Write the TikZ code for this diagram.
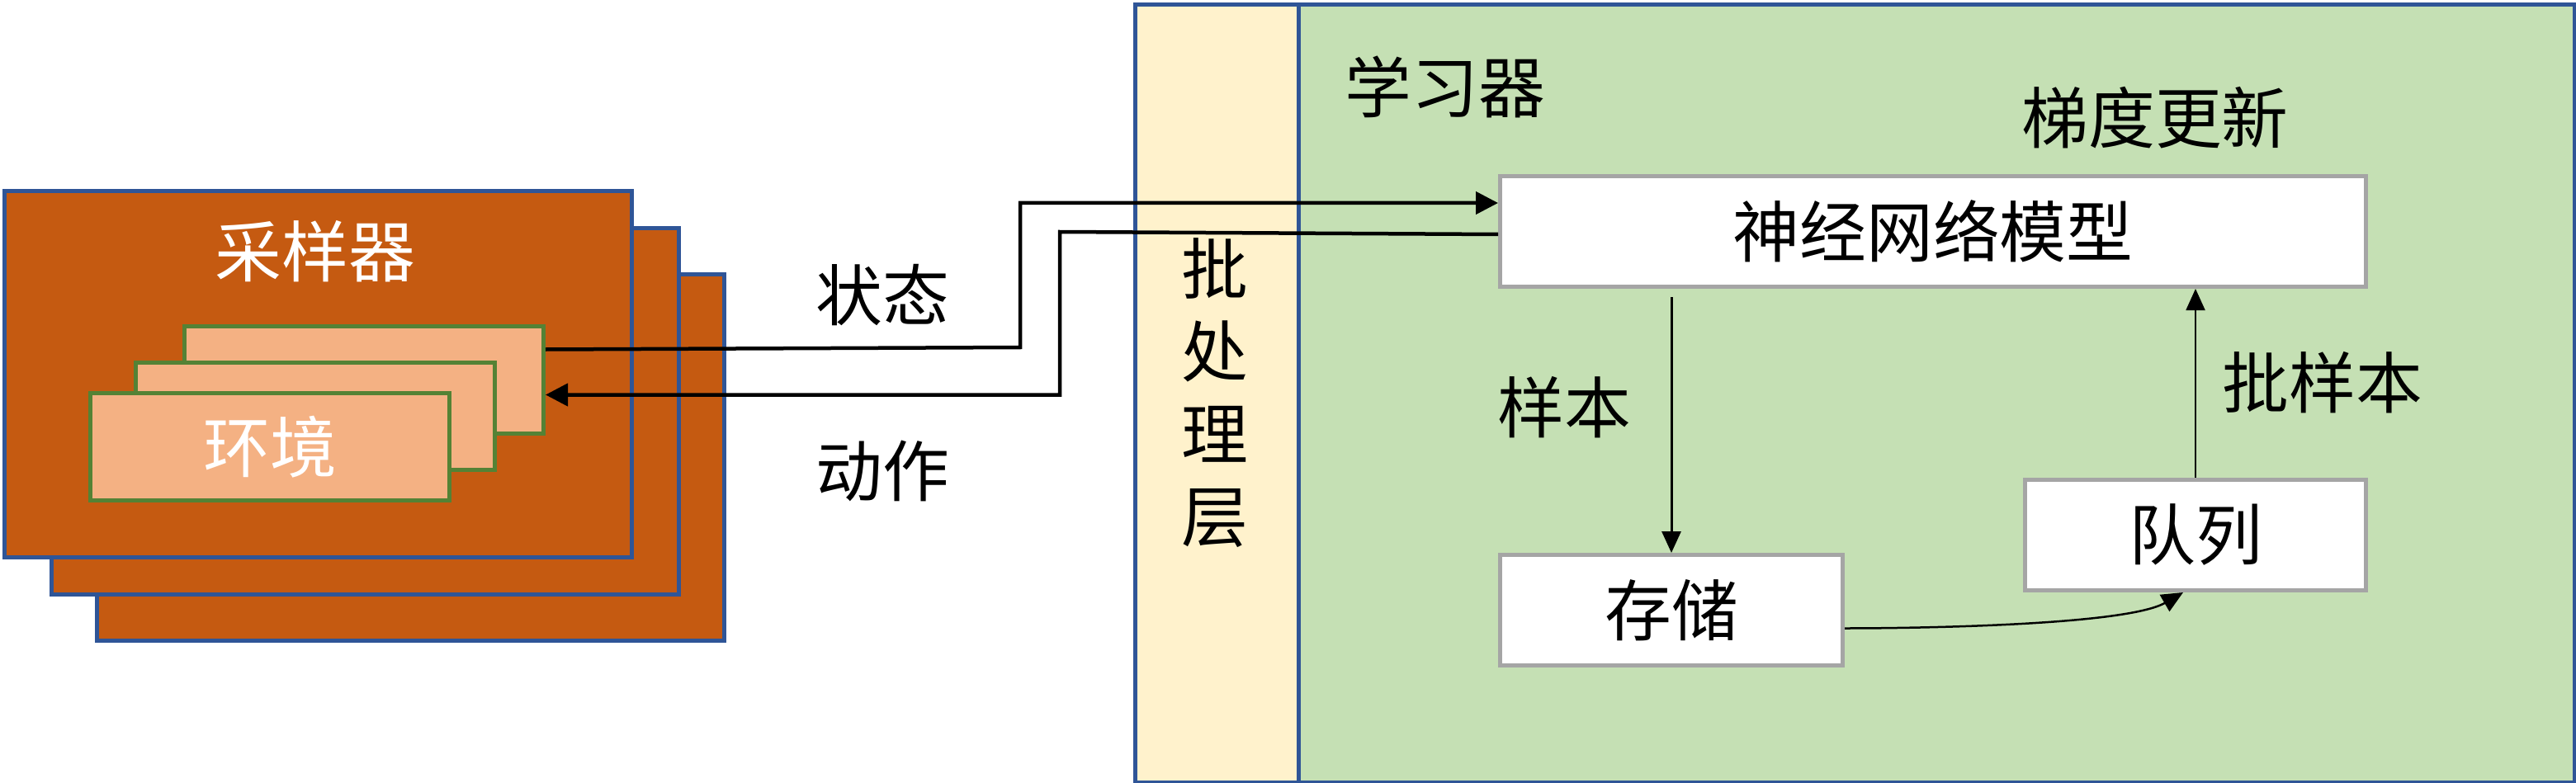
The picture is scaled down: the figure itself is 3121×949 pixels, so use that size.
\documentclass[tikz,border=0pt]{standalone}
\usepackage{fontspec}
\setmainfont{Noto Sans CJK SC}
\usetikzlibrary{arrows.meta, positioning}
\definecolor{sampfill}{HTML}{C55A11}
\definecolor{envfill}{HTML}{F4B183}
\definecolor{envline}{HTML}{548235}
\definecolor{frame}{HTML}{2F5597}
\definecolor{learnfill}{HTML}{C5E0B4}
\definecolor{batchfill}{HTML}{FFF2CC}
\definecolor{boxline}{HTML}{A5A5A5}
\tikzset{
  lab/.style={font=\fontsize{23}{28.4}\selectfont, inner sep=0pt},
  sampler/.style={draw=frame, fill=sampfill, line width=0.5mm, anchor=north west,
    minimum width=76mm, minimum height=44.4mm},
  env/.style={draw=envline, fill=envfill, line width=0.5mm, anchor=north west,
    minimum width=43.5mm, minimum height=13mm, lab, text=white},
  modbox/.style={draw=boxline, fill=white, line width=0.5mm, anchor=north west,
    minimum height=13.4mm, lab},
  flow/.style={line width=0.45mm, -{Triangle[length=2.7mm,width=2.7mm]}},
  thinflow/.style={line width=0.25mm, -{Triangle[length=2.6mm,width=2.3mm]}},
}
\begin{document}
\begin{tikzpicture}[x=0.1mm, y=-0.1mm]
\useasboundingbox (0,0) rectangle (3121,949);

% sampler stack
\node[sampler] (samp3) at (115,330) {};
\node[sampler] (samp2) at (60,274) {};
\node[sampler] (samp1) at (3,229) {};
\node[lab, text=white] (samplab) at (382,305) {采样器};

% environments
\node[env] (envC) at (221,393) {};
\node[env] (envB) at (162,437) {};
\node[env] (envA) at (107,474) {环境};

% learner
\node[draw=frame, fill=learnfill, line width=0.5mm, anchor=north west,
  minimum width=174.4mm, minimum height=94.3mm] (learner) at (1373,3) {};
\node[draw=frame, fill=batchfill, line width=0.5mm, anchor=north west,
  minimum width=19.8mm, minimum height=94.3mm] (batch) at (1373,3) {};
\node[lab, align=center] (batchlab) at (1472,476) {批\\处\\理\\层};
\node[lab] (learnlab) at (1751,105) {学习器};
\node[lab] (gradlab) at (2611,143) {梯度更新};

\node[modbox, minimum width=104.9mm] (net) at (1815,211) {神经网络模型};
\node[modbox, minimum width=41.5mm] (store) at (1815,670) {存储};
\node[modbox, minimum width=41.3mm] (queue) at (2451,579) {队列};

% state / action
\draw[flow] ([yshift=3.7mm]envC.east) -- (1236,421) |- ([yshift=3.45mm]net.west);
\draw[flow] ([yshift=-0.35mm]net.west) -- (1284,281) |- ([yshift=-1.8mm]envC.east);
\node[lab] (statelab) at (1069,358) {状态};
\node[lab] (actlab) at (1069,571) {动作};

% inside learner
\draw[thinflow, line width=0.3mm] ([yshift=-1mm]store.north |- net.south) -- (store.north);
\node[lab] (samplelab) at (1895,494) {样本};
\draw[thinflow] ([yshift=-2.2mm]store.east) to[out=0, in=-150, looseness=0.5] ([xshift=-1.5mm]queue.south);
\draw[thinflow, line width=0.2mm] (queue.north) -- (queue.north |- net.south);
\node[lab] (batchsamplab) at (2814,464) {批样本};

\end{tikzpicture}
\end{document}
